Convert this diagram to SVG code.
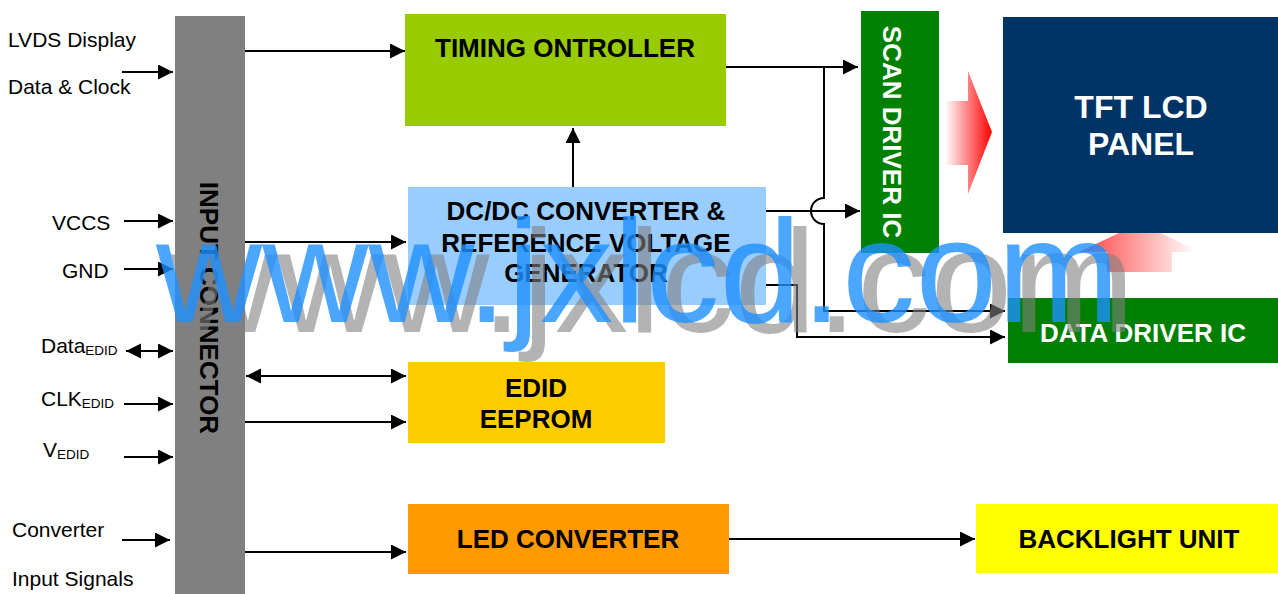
<svg xmlns="http://www.w3.org/2000/svg" width="1278" height="594" viewBox="0 0 1278 594">
<style>
.lbl{font-family:"Liberation Sans",Arial,sans-serif;font-size:21px;fill:#000}
.sub{font-size:13.5px}
.bt{font-family:"Liberation Sans",Arial,sans-serif;font-weight:bold;font-size:26px;fill:#000;text-anchor:middle}
.wt{fill:#fff}
.ln{fill:none;stroke:#000;stroke-width:2}
.arr{marker-end:url(#ah)}
.wm{font-family:"Liberation Sans",Arial,sans-serif;font-size:147px}
</style>
<defs>
<marker id="ah" markerWidth="16" markerHeight="16" refX="15" refY="7.5" orient="auto-start-reverse" markerUnits="userSpaceOnUse">
<path d="M0,0 L15,7.5 L0,15 z" fill="#000"/>
</marker>
<linearGradient id="gr" gradientUnits="userSpaceOnUse" x1="945" y1="0" x2="992" y2="0">
<stop offset="0" stop-color="#fff"/>
<stop offset="1" stop-color="#f00"/>
</linearGradient>
<linearGradient id="gu" gradientUnits="userSpaceOnUse" x1="1040" y1="0" x2="1195" y2="0">
<stop offset="0" stop-color="#f00"/>
<stop offset="1" stop-color="#fff"/>
</linearGradient>
</defs>
<rect width="1278" height="594" fill="#fff"/>

<g id="left-labels">
<text class="lbl" x="8" y="47">LVDS Display</text>
<text class="lbl" x="8" y="94">Data &amp; Clock</text>
<text class="lbl" x="52" y="230">VCCS</text>
<text class="lbl" x="62" y="278">GND</text>
<text class="lbl" x="41" y="353">Data<tspan class="sub" dy="2">EDID</tspan></text>
<text class="lbl" x="41" y="406">CLK<tspan class="sub" dy="2">EDID</tspan></text>
<text class="lbl" x="43" y="457">V<tspan class="sub" dy="2">EDID</tspan></text>
<text class="lbl" x="12" y="537">Converter</text>
<text class="lbl" x="12" y="586">Input Signals</text>
</g>

<g id="red-arrows">
<path d="M945 101 H968 V71 L992 132 L968 194 V165 H945 Z" fill="url(#gr)"/>
<path d="M1107 272 V252 H1079 L1140 223 L1200 252 H1172 V272 Z" fill="url(#gu)"/>
</g>

<g id="input-connector">
<rect x="175" y="16" width="70" height="578" fill="#808080"/>
<text class="bt" transform="translate(200,308) rotate(90)" x="0" y="0">INPUT CONNECTOR</text>
</g>

<g id="timing-controller">
<rect x="405" y="14" width="321" height="112" fill="#99CC00"/>
<text class="bt" x="565" y="57">TIMING ONTROLLER</text>
</g>

<g id="dcdc-converter">
<rect x="408" y="187" width="358" height="118" fill="#99CCFF"/>
<text class="bt" x="586" y="220">DC/DC CONVERTER &amp;</text>
<text class="bt" x="586" y="252">REFERENCE VOLTAGE</text>
<text class="bt" x="586" y="282">GENERATOR</text>
</g>

<g id="scan-driver">
<rect x="861" y="11" width="78" height="242" fill="#008000"/>
<text class="bt wt" transform="translate(883,132) rotate(90)" x="0" y="0">SCAN DRIVER IC</text>
</g>

<g id="tft-panel">
<rect x="1003" y="17" width="275" height="216" fill="#003366"/>
<text class="bt wt" style="font-size:32px" x="1141" y="118">TFT LCD</text>
<text class="bt wt" style="font-size:32px" x="1141" y="155">PANEL</text>
</g>

<g id="data-driver">
<rect x="1008" y="298" width="270" height="65" fill="#008000"/>
<text class="bt wt" x="1143" y="342">DATA DRIVER IC</text>
</g>

<g id="edid-eeprom">
<rect x="408" y="362" width="257" height="81" fill="#FFCC00"/>
<text class="bt" x="536" y="397">EDID</text>
<text class="bt" x="536" y="428">EEPROM</text>
</g>

<g id="led-converter">
<rect x="408" y="504" width="321" height="70" fill="#FF9900"/>
<text class="bt" x="568" y="548">LED CONVERTER</text>
</g>

<g id="backlight-unit">
<rect x="976" y="504" width="302" height="69" fill="#FFFF00"/>
<text class="bt" x="1129" y="548">BACKLIGHT UNIT</text>
</g>

<g id="connectors">
<line class="ln arr" x1="122" y1="72" x2="173" y2="72"/>
<line class="ln arr" x1="124" y1="221" x2="173" y2="221"/>
<line class="ln arr" x1="124" y1="269" x2="173" y2="269"/>
<line class="ln arr" x1="126" y1="351" x2="173" y2="351" marker-start="url(#ah)"/>
<line class="ln arr" x1="124" y1="404" x2="173" y2="404"/>
<line class="ln arr" x1="124" y1="457" x2="173" y2="457"/>
<line class="ln arr" x1="122" y1="540" x2="170" y2="540"/>
<line class="ln arr" x1="245" y1="51" x2="405" y2="51"/>
<line class="ln arr" x1="245" y1="242" x2="406" y2="242"/>
<line class="ln arr" x1="246" y1="376" x2="406" y2="376" marker-start="url(#ah)"/>
<line class="ln arr" x1="245" y1="422" x2="406" y2="422"/>
<line class="ln arr" x1="245" y1="552" x2="406" y2="552"/>
<line class="ln arr" x1="729" y1="539" x2="975" y2="539"/>
<line class="ln arr" x1="573" y1="187" x2="573" y2="128"/>
<line class="ln arr" x1="726" y1="67" x2="858" y2="67"/>
<path class="ln arr" d="M824 67 V198 A13 13 0 0 0 824 224 V311 H1005"/>
<line class="ln arr" x1="766" y1="211" x2="860" y2="211"/>
<path class="ln arr" d="M766 285 H797 V337 H1005"/>
</g>

<g id="watermark">
<text class="wm" x="171" y="332" fill="#808080" fill-opacity="0.6">www.jxlcd.com</text>
<text class="wm" x="156" y="322" fill="#1E90FF" fill-opacity="0.8">www.jxlcd.com</text>
</g>
</svg>
